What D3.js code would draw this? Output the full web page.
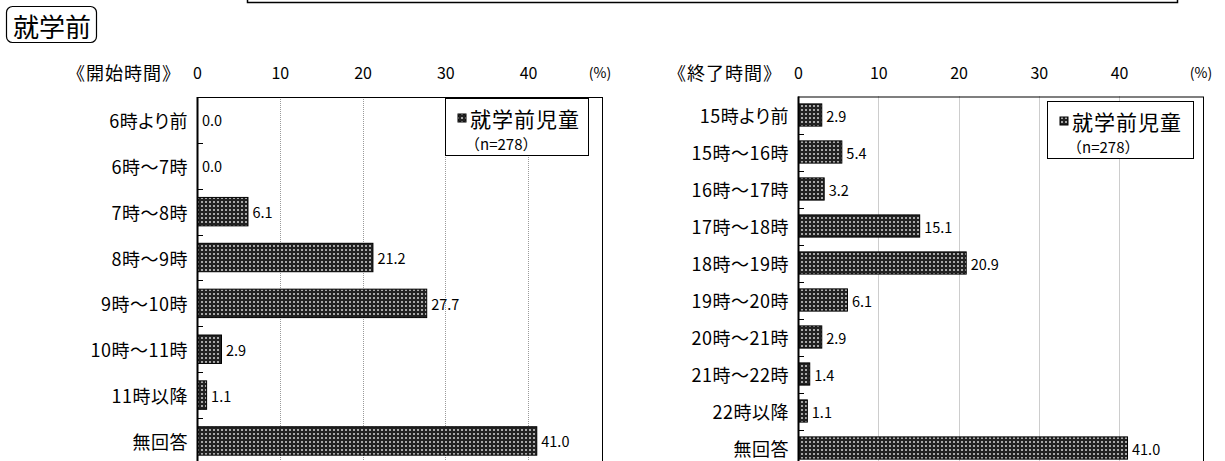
<!DOCTYPE html>
<html><head><meta charset="utf-8">
<script src="https://cdn.jsdelivr.net/npm/d3@7"></script>
<style>body{margin:0;background:#fff}svg{display:block}text{font-family:"Noto Sans CJK JP","Noto Sans",sans-serif;fill:#000}
.cat{font-feature-settings:"palt";}</style>
</head><body>
<svg id="c" width="1225" height="461"></svg>
<script>
const startCats = ["6時より前","6時～7時","7時～8時","8時～9時","9時～10時","10時～11時","11時以降","無回答"];
const startVals = [0.0,0.0,6.1,21.2,27.7,2.9,1.1,41.0];
const endCats = ["15時より前","15時～16時","16時～17時","17時～18時","18時～19時","19時～20時","20時～21時","21時～22時","22時以降","無回答"];
const endVals = [2.9,5.4,3.2,15.1,20.9,6.1,2.9,1.4,1.1,41.0];
const tickVals = [0,10,20,30,40];
const seriesName = "就学前児童";
const nLabel = "（n=278）";

const svg = d3.select("#c");
const defs = svg.append("defs");
const pat = defs.append("pattern").attr("id","dots").attr("patternUnits","userSpaceOnUse")
  .attr("width",4).attr("height",4);
pat.append("rect").attr("width",4).attr("height",4).attr("fill","#222");
pat.append("rect").attr("x",1).attr("y",1).attr("width",2).attr("height",2).attr("fill","#8a8a8a");
pat.append("rect").attr("x",1.5).attr("y",1.5).attr("width",1).attr("height",1).attr("fill","#fff");

// top cut-off box
svg.append("path").attr("d","M247.5,0 V2.5 H1177.5 V0").attr("fill","none").attr("stroke","#000").attr("stroke-width",1.5);

// section label
svg.append("rect").attr("x",6.5).attr("y",6.5).attr("width",90).attr("height",36).attr("rx",6)
  .attr("fill","none").attr("stroke","#000").attr("stroke-width",1.2);
svg.append("text").attr("x",52).attr("y",25).attr("text-anchor","middle").attr("dominant-baseline","central")
  .attr("font-size",26).text("就学前");

function panel(o){
  const x = d3.scaleLinear().domain([0,40]).range([o.x0, o.x40]);
  const y = d3.scaleBand().domain(o.cats).range([o.top, o.top + o.step*o.cats.length])
    .paddingInner(o.pad).paddingOuter(o.pad/2);
  const g = svg.append("g");
  g.selectAll("line.grid").data(tickVals.slice(1)).join("line")
    .attr("x1",d=>Math.round(x(d))+0.5).attr("x2",d=>Math.round(x(d))+0.5)
    .attr("y1",o.top).attr("y2",461).attr("stroke","#9a9a9a").attr("stroke-width",1).attr("stroke-dasharray","1,1");
  g.append("rect").attr("x",o.x0+0.5).attr("y",o.top+0.5).attr("width",o.xr-o.x0).attr("height",480)
    .attr("fill","none").attr("stroke","#000").attr("stroke-width",1);
  const ax = d3.axisTop(x).tickValues(tickVals).tickSize(0).tickPadding(0).tickFormat(d3.format("d"));
  const ag = g.append("g").attr("transform",`translate(0,${o.tickY})`).call(ax);
  ag.select(".domain").remove();
  ag.selectAll("text").attr("font-size",16).attr("font-family",'"Noto Sans CJK JP",sans-serif').attr("fill","#000")
    .attr("dy",0).attr("dominant-baseline","central").attr("y",0);
  g.append("text").attr("x",o.xr-2).attr("y",o.tickY).attr("text-anchor","middle").attr("dominant-baseline","central")
    .attr("font-size",14).text("(%)");
  g.append("text").attr("x",o.x0-16).attr("y",o.tickY).attr("text-anchor","end").attr("dominant-baseline","central")
    .attr("font-size",18).attr("letter-spacing",1).text(o.title);
  g.selectAll("rect.bar").data(o.cats).join("rect")
    .attr("x",o.x0+0.5).attr("y",d=>y(d)).attr("height",y.bandwidth())
    .attr("width",(d,i)=>Math.max(0,x(o.vals[i])-o.x0))
    .attr("fill","url(#dots)").attr("stroke","#000").attr("stroke-width",(d,i)=>o.vals[i]>0?1:0);
  g.selectAll("text.val").data(o.cats).join("text")
    .attr("x",(d,i)=>x(o.vals[i])+5).attr("y",d=>y(d)+y.bandwidth()/2)
    .attr("dominant-baseline","central").attr("font-size",14.5)
    .text((d,i)=>o.vals[i].toFixed(1));
  g.selectAll("text.cat").data(o.cats).join("text").attr("class","cat")
    .attr("x",o.x0-9).attr("y",d=>y(d)+y.bandwidth()/2)
    .attr("text-anchor","end").attr("dominant-baseline","central").attr("font-size",18)
    .attr("letter-spacing",0.5).text(d=>d);
  g.selectAll("line.tk").data(o.cats.slice(1)).join("line")
    .attr("x1",o.x0).attr("x2",o.x0+6)
    .attr("y1",d=>Math.round(y(d)-y.step()*y.paddingInner()/2)+0.5).attr("y2",d=>Math.round(y(d)-y.step()*y.paddingInner()/2)+0.5)
    .attr("stroke","#000").attr("stroke-width",1);
  g.append("line").attr("x1",o.x0+0.5).attr("x2",o.x0+0.5).attr("y1",o.top).attr("y2",461)
    .attr("stroke","#000").attr("stroke-width",2);
  const L = o.leg;
  g.append("rect").attr("x",L.x+0.5).attr("y",L.y+0.5).attr("width",L.w).attr("height",L.h)
    .attr("fill","#fff").attr("stroke","#000").attr("stroke-width",1);
  g.append("rect").attr("x",L.x+13).attr("y",L.y+16).attr("width",8).attr("height",8)
    .attr("fill","url(#dots)").attr("stroke","#000").attr("stroke-width",1);
  g.append("text").attr("x",L.x+25).attr("y",L.y+20).attr("dominant-baseline","central")
    .attr("font-size",21).attr("letter-spacing",1).text(seriesName);
  g.append("text").attr("x",L.x+20).attr("y",L.y+45).attr("dominant-baseline","central")
    .attr("font-size",15).text(nLabel);
}

panel({cats:startCats, vals:startVals, x0:197, x40:528, xr:602, top:97, step:45.86, pad:0.38,
  tickY:72, title:"《開始時間》", leg:{x:445,y:98,w:143,h:57}});
panel({cats:endCats, vals:endVals, x0:798, x40:1119, xr:1203, top:96.5, step:37, pad:0.4,
  tickY:72, title:"《終了時間》", leg:{x:1047,y:101,w:146,h:57}});
</script>
</body></html>
